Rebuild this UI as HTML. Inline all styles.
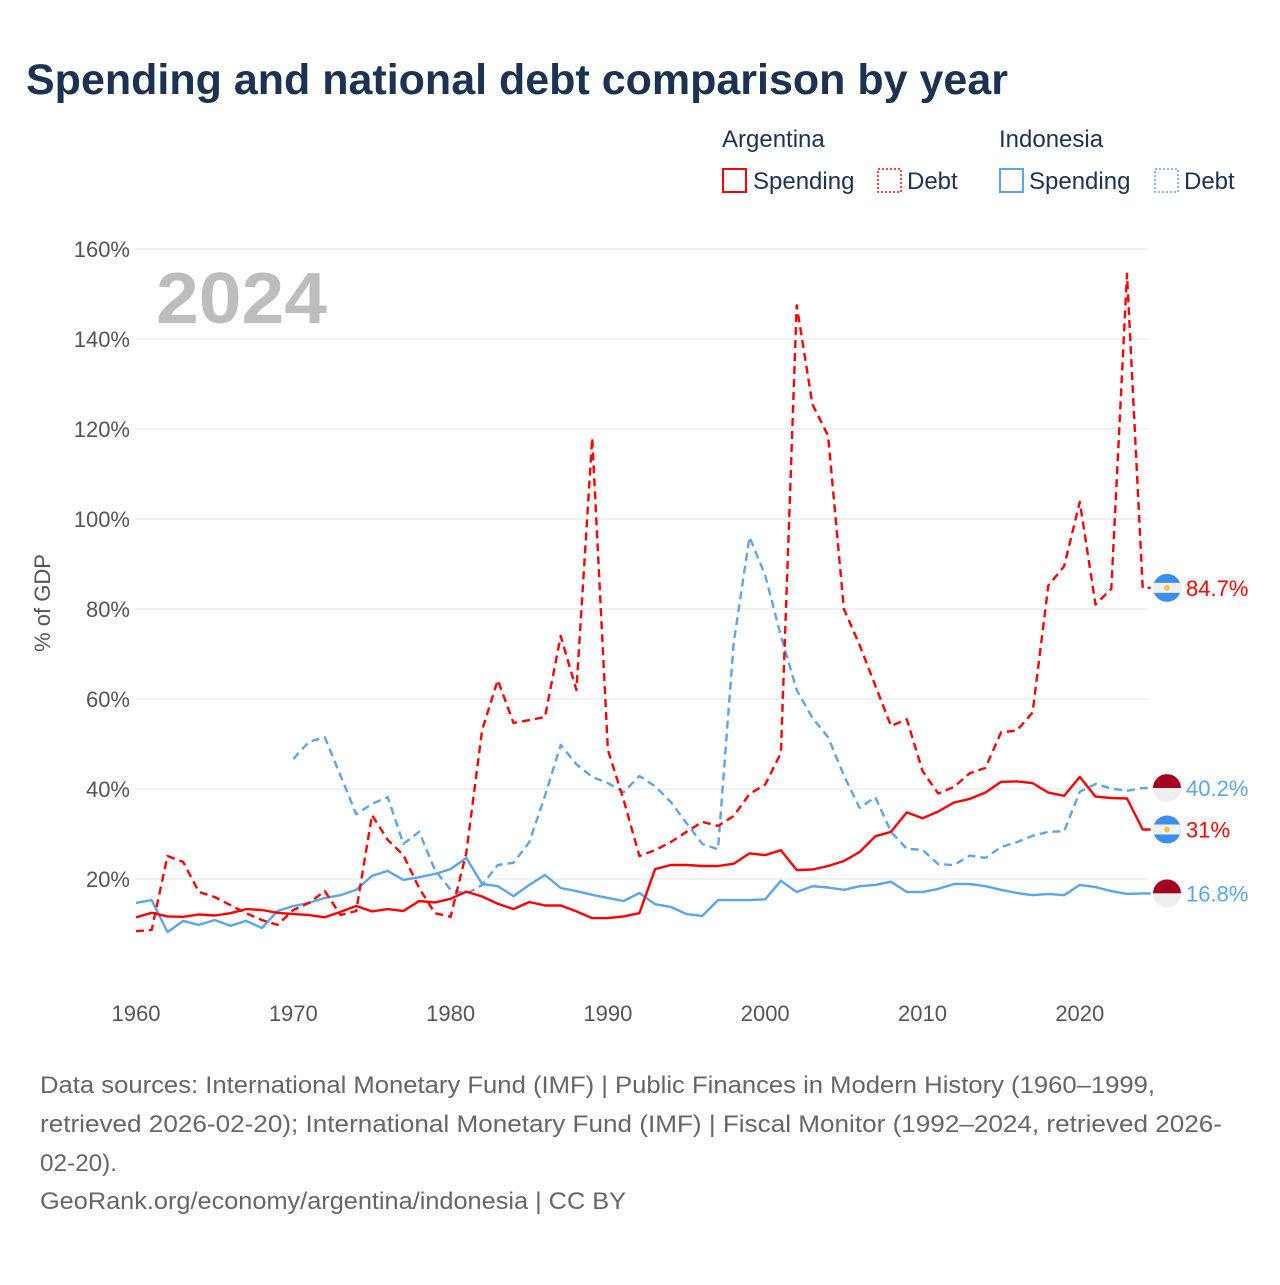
<!DOCTYPE html>
<html><head><meta charset="utf-8"><style>
body{margin:0;background:#fff;width:1280px;height:1280px;overflow:hidden;font-family:"Liberation Sans",sans-serif;}
svg text{font-family:"Liberation Sans",sans-serif;}
</style></head><body>
<svg id="c" width="1280" height="1280" viewBox="0 0 1280 1280">
<text x="26" y="94" font-size="43" font-weight="bold" fill="#1b3252">Spending and national debt comparison by year</text>
<g>
<text x="722" y="147" font-size="24" fill="#1b3252">Argentina</text>
<rect x="723" y="169" width="23" height="23" fill="none" stroke="#ff0000" stroke-width="2"/>
<text x="753" y="189" font-size="24" fill="#1b3252">Spending</text>
<rect x="878" y="169" width="23" height="23" fill="none" stroke="#ff0000" stroke-width="1.5" stroke-dasharray="2,2"/>
<text x="907" y="189" font-size="24" fill="#1b3252">Debt</text>
<text x="999" y="147" font-size="24" fill="#1b3252">Indonesia</text>
<rect x="1000" y="169" width="23" height="23" fill="none" stroke="#5ba6ea" stroke-width="2"/>
<text x="1029" y="189" font-size="24" fill="#1b3252">Spending</text>
<rect x="1155" y="169" width="23" height="23" fill="none" stroke="#5ba6ea" stroke-width="1.5" stroke-dasharray="2,2"/>
<text x="1184" y="189" font-size="24" fill="#1b3252">Debt</text>
</g>
<text x="156" y="323" font-size="72" font-weight="bold" fill="#bdbdbd" textLength="171" lengthAdjust="spacingAndGlyphs">2024</text>
<text transform="translate(50,603) rotate(-90)" text-anchor="middle" font-size="22" fill="#555">% of GDP</text>
<g id="grid"></g><g id="ylab"></g><g id="xlab"></g><g id="lines"></g><g id="ends"></g>
<g font-size="24" fill="#666">
<text x="40" y="1093" textLength="1115" lengthAdjust="spacingAndGlyphs">Data sources: International Monetary Fund (IMF) | Public Finances in Modern History (1960–1999,</text>
<text x="40" y="1132" textLength="1182" lengthAdjust="spacingAndGlyphs">retrieved 2026-02-20); International Monetary Fund (IMF) | Fiscal Monitor (1992–2024, retrieved 2026-</text>
<text x="40" y="1171" textLength="77" lengthAdjust="spacingAndGlyphs">02-20).</text>
<text x="40" y="1209" textLength="586" lengthAdjust="spacingAndGlyphs">GeoRank.org/economy/argentina/indonesia | CC BY</text>
</g>
</svg>
<script>
const yTicks=[20,40,60,80,100,120,140,160];
const xTicks=[1960,1970,1980,1990,2000,2010,2020];
const argSpending=[11.5,12.5,11.7,11.6,12.1,11.9,12.4,13.3,13.1,12.5,12.2,12.0,11.5,12.7,14.0,12.8,13.3,12.9,15.1,14.8,15.6,17.2,16.1,14.5,13.3,14.9,14.1,14.1,12.8,11.3,11.3,11.7,12.4,22.2,23.1,23.1,22.9,22.9,23.4,25.7,25.3,26.4,22.0,22.1,22.9,24.0,26.0,29.5,30.5,34.8,33.5,35.0,37.0,37.8,39.2,41.6,41.7,41.3,39.2,38.5,42.7,38.3,38.0,37.9,31.0];
const argDebt=[8.4,8.7,25.1,23.8,17.1,16.0,14.2,12.4,10.9,9.8,13.1,14.7,17.3,12.0,12.9,34.2,28.7,25.3,18.0,12.4,11.6,25.8,53.1,64.2,54.7,55.3,56.0,74.0,62.0,118.0,48.7,37.6,25.1,26.4,28.2,30.5,32.7,31.8,34.0,38.9,41.0,48.0,147.5,125.5,118.5,80.0,72.0,63.0,54.0,55.5,44.0,39.0,40.5,43.5,44.7,52.6,53.0,57.0,85.2,89.5,103.8,81.0,84.5,154.5,84.7];
const idnSpending=[14.7,15.3,8.2,10.7,9.8,10.9,9.6,10.7,9.1,12.9,14.0,14.7,15.8,16.4,17.6,20.7,21.8,19.8,20.4,21.1,22.2,24.7,18.9,18.4,16.2,18.7,20.9,18.0,17.3,16.5,15.8,15.1,16.9,14.4,13.8,12.2,11.8,15.3,15.3,15.3,15.5,19.6,17.1,18.4,18.1,17.6,18.4,18.7,19.4,17.1,17.1,17.8,18.9,18.9,18.4,17.6,16.9,16.4,16.7,16.4,18.7,18.2,17.3,16.7,16.8];
const idnDebtStart=1970;
const idnDebt=[46.7,50.5,51.5,43.0,34.4,36.7,38.2,27.8,30.5,22.0,17.6,16.7,18.7,23.1,23.6,28.2,38.5,49.8,45.5,42.7,41.3,39.3,42.9,40.6,37.1,32.4,27.8,26.6,72.5,96.0,87.5,74.0,62.0,55.8,51.5,43.0,35.8,38.2,30.5,26.7,26.5,23.3,23.1,25.2,24.7,27.1,28.2,29.6,30.5,30.6,39.4,41.1,40.1,39.6,40.2];
const NS='http://www.w3.org/2000/svg';
const X=yr=>136+(yr-1960)*15.73;
const Y=v=>969-v*4.5;
function mk(t,a,p){const e=document.createElementNS(NS,t);for(const k in a)e.setAttribute(k,a[k]);p.appendChild(e);return e;}
const grid=document.getElementById('grid'),ylab=document.getElementById('ylab'),xlab=document.getElementById('xlab');
yTicks.forEach(v=>{
 const l=mk('line',{x1:135,x2:1148,y1:Y(v),y2:Y(v),stroke:'#e6e6e6','stroke-width':1},grid);
 
 
 const t=mk('text',{x:130,y:Y(v)+8,'text-anchor':'end','font-size':22,fill:'#555'},ylab);
 t.textContent=v+'%';
 
 
});
xTicks.forEach(yr=>{
 const t=mk('text',{x:X(yr),y:1021,'text-anchor':'middle','font-size':22,fill:'#555'},xlab);
 t.textContent=yr;
 
 
});
const lines=document.getElementById('lines');
function series(arr,start,color,dash,name){
 const pts=arr.map((v,i)=>X(start+i).toFixed(1)+','+Y(v).toFixed(1));
 const last=arr[arr.length-1];
 pts.push((X(start+arr.length-1)+8).toFixed(1)+','+Y(last).toFixed(1));
 const p=mk('polyline',{points:pts.join(' '),fill:'none',stroke:color,'stroke-width':2.4,'stroke-linejoin':'round'},lines);
 if(dash)p.setAttribute('stroke-dasharray',dash);
 
 
}
series(idnDebt,idnDebtStart,'#5ba6ea','8,5','indonesia-debt-line');
series(idnSpending,1960,'#5ba6ea',null,'indonesia-spending-line');
series(argDebt,1960,'#ff0000','8,5','argentina-debt-line');
series(argSpending,1960,'#ff0000',null,'argentina-spending-line');
const ends=document.getElementById('ends');
function flag(v,country,color,label,name){
 const cx=1167,cy=Y(v);
 const g=mk('g',{},ends);
 
 
 const id='clip'+name;
 const cp=mk('clipPath',{id:id},g);mk('circle',{cx:cx,cy:cy,r:14},cp);
 const f=mk('g',{'clip-path':'url(#'+id+')'},g);
 if(country==='arg'){
  mk('rect',{x:cx-14,y:cy-14,width:28,height:28,fill:'#3a8ef0'},f);
  mk('rect',{x:cx-14,y:cy-5,width:28,height:10,fill:'#f0f0f0'},f);
  mk('circle',{cx:cx,cy:cy,r:3,fill:'#f6c343'},f);
 }else{
  mk('rect',{x:cx-14,y:cy-14,width:28,height:14,fill:'#a50020'},f);
  mk('rect',{x:cx-14,y:cy,width:28,height:14,fill:'#eeeeee'},f);
 }
 const t=mk('text',{x:1186,y:cy+8,'font-size':22,fill:color},g);
 t.textContent=label;
}
flag(argDebt[argDebt.length-1],'arg','#ff0000',argDebt[argDebt.length-1]+'%','end-label-argentina-debt');
flag(idnDebt[idnDebt.length-1],'idn','#5ba6ea',idnDebt[idnDebt.length-1]+'%','end-label-indonesia-debt');
flag(argSpending[argSpending.length-1],'arg','#ff0000',Math.round(argSpending[argSpending.length-1]*10)/10+'%','end-label-argentina-spending');
flag(idnSpending[idnSpending.length-1],'idn','#5ba6ea',idnSpending[idnSpending.length-1]+'%','end-label-indonesia-spending');
</script>
</body></html>
